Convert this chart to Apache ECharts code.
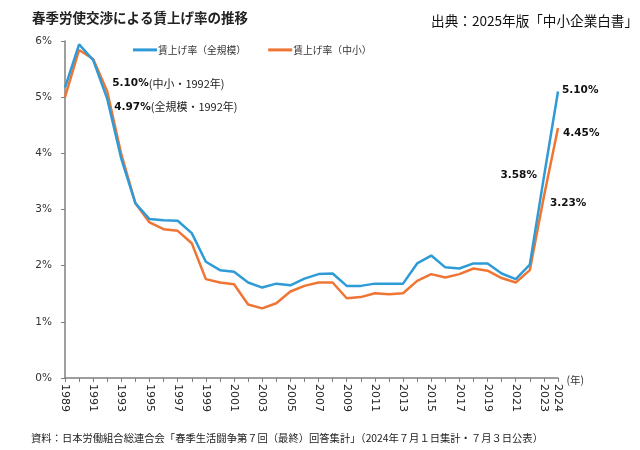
<!DOCTYPE html>
<html>
<head>
<meta charset="utf-8">
<script src="https://cdn.jsdelivr.net/npm/echarts@6/dist/echarts.min.js"></script>
<style>
html,body{margin:0;padding:0;background:#fff;}
#chart{width:640px;height:450px;}
</style>
</head>
<body>
<div id="chart"></div>
<script>
var years = ['1989','1990','1991','1992','1993','1994','1995','1996','1997','1998','1999','2000','2001','2002','2003','2004','2005','2006','2007','2008','2009','2010','2011','2012','2013','2014','2015','2016','2017','2018','2019','2020','2021','2022','2023','2024'];
var allSizes = [5.17,5.94,5.66,4.97,3.90,3.11,2.83,2.81,2.80,2.58,2.07,1.92,1.89,1.70,1.61,1.68,1.65,1.77,1.85,1.86,1.64,1.64,1.68,1.68,1.68,2.04,2.18,1.97,1.95,2.04,2.04,1.86,1.76,2.02,3.58,5.10];
var smes = [5.00,5.84,5.68,5.10,3.98,3.11,2.77,2.65,2.62,2.40,1.76,1.70,1.67,1.31,1.24,1.33,1.54,1.64,1.70,1.70,1.42,1.44,1.51,1.49,1.51,1.73,1.85,1.79,1.85,1.95,1.91,1.78,1.70,1.92,3.23,4.45];
var yTicks = ['0%','1%','2%','3%','4%','5%','6%'];
var seriesNames = ['賃上げ率（全規模）','賃上げ率（中小）'];

var numFont = '"DejaVu Sans", "Noto Sans CJK JP", sans-serif';
var jpFont = '"Noto Sans CJK JP", sans-serif';

var richStyle = {
  b: {fontFamily: numFont, fontWeight: 'bold', fontSize: 10.5, color: '#111'},
  n: {fontFamily: jpFont, fontSize: 11, color: '#222'}
};

function buildData(values, labels) {
  return values.map(function (v, i) {
    var item = {value: v};
    if (labels[i]) item.label = labels[i];
    return item;
  });
}

var i1992 = years.indexOf('1992');
var i2023 = years.indexOf('2023');
var i2024 = years.indexOf('2024');
function pct(v){ return v.toFixed(2) + '%'; }

var blueLabels = {};
blueLabels[i1992] = {show: true, position: 'right', offset: [2, 8], formatter: '{b|' + pct(allSizes[i1992]) + '}{n|(全規模・1992年)}', rich: richStyle};
blueLabels[i2023] = {show: true, position: 'left', distance: 7, offset: [0, -2], formatter: '{b|' + pct(allSizes[i2023]) + '}', rich: richStyle};
blueLabels[i2024] = {show: true, position: 'right', distance: 4, offset: [0, -1], formatter: '{b|' + pct(allSizes[i2024]) + '}', rich: richStyle};

var orangeLabels = {};
orangeLabels[i1992] = {show: true, position: 'right', offset: [0, -8], formatter: '{b|' + pct(smes[i1992]) + '}{n|(中小・1992年)}', rich: richStyle};
orangeLabels[i2023] = {show: true, position: 'right', distance: 6, offset: [0, 7], formatter: '{b|' + pct(smes[i2023]) + '}', rich: richStyle};
orangeLabels[i2024] = {show: true, position: 'right', distance: 5, offset: [0, 5], formatter: '{b|' + pct(smes[i2024]) + '}', rich: richStyle};

var chart = echarts.init(document.getElementById('chart'), null, {renderer: 'canvas'});
chart.setOption({
  animation: false,
  backgroundColor: '#ffffff',
  title: [
    {text: '春季労使交渉による賃上げ率の推移', left: 27, top: 6, textStyle: {fontFamily: jpFont, fontSize: 13.5, fontWeight: 'bold', color: '#222'}},
    {text: '出典：2025年版「中小企業白書」', right: -3, top: 9, textStyle: {fontFamily: jpFont, fontSize: 13.6, fontWeight: 'normal', color: '#111'}},
    {text: '資料：日本労働組合総連合会「春季生活闘争第７回（最終）回答集計」（2024年７月１日集計・７月３日公表）', left: 26, top: 428, textStyle: {fontFamily: jpFont, fontSize: 10.3, fontWeight: 'normal', color: '#222'}}
  ],
  legend: {
    top: 40, left: 128,
    itemWidth: 24, itemHeight: 3, itemGap: 22,
    icon: 'rect',
    textStyle: {fontFamily: jpFont, fontSize: 9.8, color: '#333', padding: [0, 0, 0, -4]},
    data: seriesNames
  },
  grid: {left: 65, right: 82, top: 41, bottom: 72, containLabel: false},
  xAxis: {
    type: 'category',
    data: years,
    boundaryGap: false,
    name: '(年)',
    nameLocation: 'end',
    nameGap: 4,
    nameTextStyle: {fontFamily: jpFont, fontSize: 10.5, color: '#333', verticalAlign: 'top', padding: [-3, 0, 0, 0]},
    axisLine: {lineStyle: {color: '#7f7f7f', width: 1.5}},
    axisTick: {show: true, interval: 0, length: 4, lineStyle: {color: '#7f7f7f'}},
    axisLabel: {
      rotate: -90,
      fontFamily: numFont, fontSize: 11, color: '#222', margin: 6,
      interval: function (idx, val) { return (parseInt(val, 10) % 2 === 1) || val === '2024'; }
    },
    splitLine: {show: false}
  },
  yAxis: {
    type: 'value',
    min: 0, max: 6, interval: 1,
    axisLine: {show: true, lineStyle: {color: '#7f7f7f', width: 1.5}},
    axisTick: {show: true, length: 4, lineStyle: {color: '#7f7f7f'}},
    axisLabel: {fontFamily: numFont, fontSize: 10.5, color: '#333', margin: 13,
      formatter: function (v) { return yTicks[Math.round(v)]; }},
    splitLine: {show: false}
  },
  series: [
    {name: seriesNames[0], type: 'line', data: buildData(allSizes, blueLabels), symbol: 'circle', symbolSize: 0, showSymbol: true,
      lineStyle: {color: '#2e9bd6', width: 2.5}, itemStyle: {color: '#2e9bd6'}, z: 3},
    {name: seriesNames[1], type: 'line', data: buildData(smes, orangeLabels), symbol: 'circle', symbolSize: 0, showSymbol: true,
      lineStyle: {color: '#ef7534', width: 2.5}, itemStyle: {color: '#ef7534'}, z: 2}
  ]
});
</script>
</body>
</html>
